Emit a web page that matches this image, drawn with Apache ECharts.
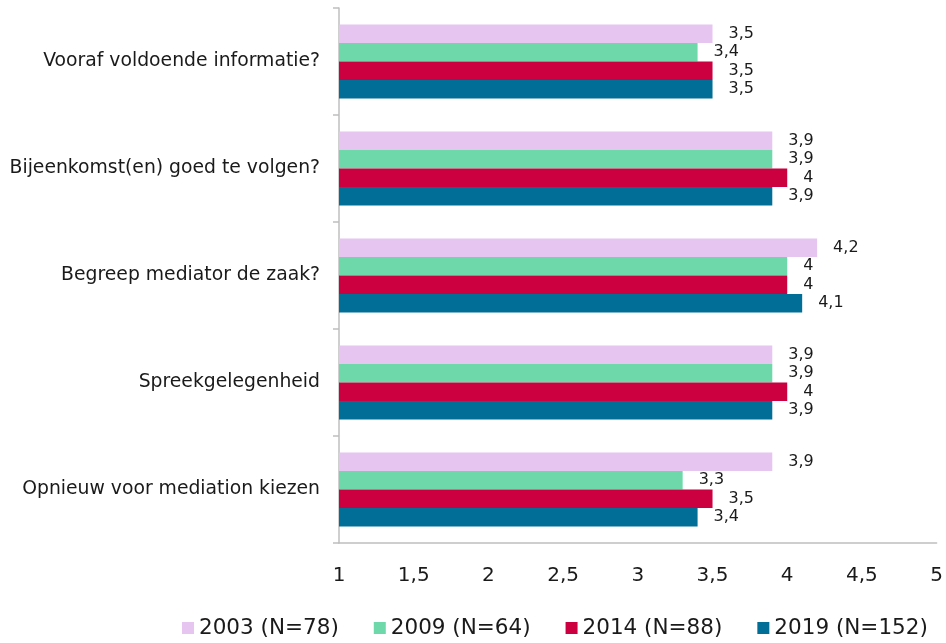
<!DOCTYPE html>
<html>
<head>
<meta charset="utf-8">
<script src="https://cdn.jsdelivr.net/npm/echarts@6/dist/echarts.min.js"></script>
<style>
  html, body { margin: 0; padding: 0; background: #fff; }
  #chart { width: 946px; height: 643px; }
</style>
</head>
<body>
<div id="chart"></div>
<script>
// Vragen (van boven naar beneden)
const categories = [
  'Vooraf voldoende informatie?',
  'Bijeenkomst(en) goed te volgen?',
  'Begreep mediator de zaak?',
  'Spreekgelegenheid',
  'Opnieuw voor mediation kiezen'
];
// Gemiddelde scores per meting
const s2003 = [3.5, 3.9, 4.2, 3.9, 3.9];
const s2009 = [3.4, 3.9, 4.0, 3.9, 3.3];
const s2014 = [3.5, 4.0, 4.0, 4.0, 3.5];
const s2019 = [3.5, 3.9, 4.1, 3.9, 3.4];
const seriesNames = ['2003 (N=78)', '2009 (N=64)', '2014 (N=88)', '2019 (N=152)'];
const seriesColors = ['#E6C6F0', '#6ED8AA', '#CC0040', '#006E96'];
// Ticklabels van de x-as
const xMin = 1, xMax = 5, xStep = 0.5;

const FONT = 'DejaVu Sans, Verdana, sans-serif';
const comma = v => String(v).replace('.', ',');

const chart = echarts.init(document.getElementById('chart'));
const values = [s2003, s2009, s2014, s2019];

chart.setOption({
  animation: false,
  textStyle: { fontFamily: FONT },
  grid: { left: 339, right: 9, top: 8, bottom: 100, containLabel: false },
  legend: {
    bottom: -1,
    left: 177,
    icon: 'rect',
    itemWidth: 12,
    itemHeight: 12,
    itemGap: 35,
    textStyle: { fontFamily: FONT, fontSize: 21.5, color: '#1a1a1a' },
    data: seriesNames
  },
  xAxis: {
    type: 'value',
    min: xMin,
    max: xMax,
    interval: xStep,
    axisLine: { show: true, lineStyle: { color: '#BFBFBF', width: 1.5 } },
    axisTick: { show: false },
    splitLine: { show: false },
    axisLabel: { fontFamily: FONT, fontSize: 20, color: '#1a1a1a', margin: 23, formatter: comma }
  },
  yAxis: {
    type: 'category',
    inverse: true,
    data: categories,
    axisLine: { show: true, lineStyle: { color: '#BFBFBF', width: 1.5 } },
    axisTick: { show: true, length: 6, lineStyle: { color: '#BFBFBF', width: 1.5 } },
    axisLabel: { fontFamily: FONT, fontSize: 18.8, color: '#1a1a1a', margin: 19 }
  },
  series: seriesNames.map((name, i) => ({
    name: name,
    type: 'bar',
    data: values[i],
    barGap: '0%',
    barCategoryGap: '31%',
    itemStyle: { color: seriesColors[i] },
    label: {
      show: true,
      position: 'right',
      distance: 16,
      fontFamily: FONT,
      fontSize: 16,
      color: '#1a1a1a',
      formatter: p => comma(p.value)
    }
  }))
});
</script>
</body>
</html>
